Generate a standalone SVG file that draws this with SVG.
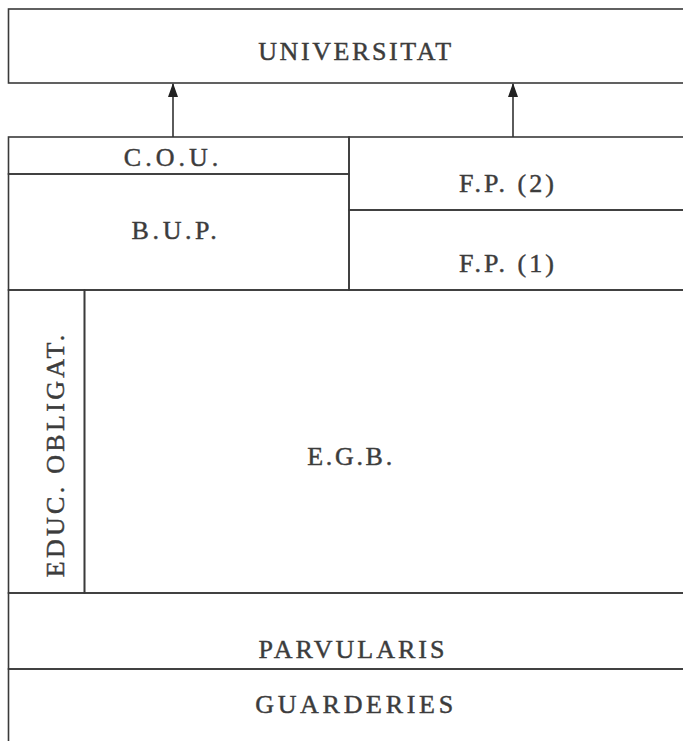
<svg xmlns="http://www.w3.org/2000/svg" width="683" height="741" viewBox="0 0 683 741">
<defs>
<style>
.box{fill:none;stroke:#3a3a3a;stroke-width:1.6}
.lbl{font-family:"Liberation Serif","Times New Roman",serif;font-size:26px;fill:#3c3c3c;stroke:#3c3c3c;stroke-width:0.45;text-anchor:middle}
.conn{stroke:#333;stroke-width:1.6;fill:none}
</style>
<marker id="ah" viewBox="0 0 14 10" refX="13" refY="5" markerWidth="14" markerHeight="10" markerUnits="userSpaceOnUse" orient="auto">
<path d="M0,0 L14,5 L0,10 Z" fill="#222"/>
</marker>
</defs>
<rect width="683" height="741" fill="#fff"/>
<g id="universitat">
<rect class="box" x="8.5" y="9" width="690" height="74"/>
<text class="lbl" x="356" y="60" style="letter-spacing:2.6px">UNIVERSITAT</text>
</g>
<g id="cou">
<rect class="box" x="8.5" y="137" width="340.5" height="37"/>
<text class="lbl" x="173" y="166" style="letter-spacing:4px">C.O.U.</text>
</g>
<g id="bup">
<rect class="box" x="8.5" y="174" width="340.5" height="116"/>
<text class="lbl" x="176" y="239" style="letter-spacing:3.6px">B.U.P.</text>
</g>
<g id="fp2">
<rect class="box" x="349" y="137" width="350" height="73"/>
<text class="lbl" x="508" y="192" style="letter-spacing:3px">F.P. (2)</text>
</g>
<g id="fp1">
<rect class="box" x="349" y="210" width="350" height="80"/>
<text class="lbl" x="508" y="272" style="letter-spacing:3px">F.P. (1)</text>
</g>
<g id="educ-obligat">
<rect class="box" x="8.5" y="290" width="76" height="303"/>
<text class="lbl" transform="translate(64,456) rotate(-90)" x="1.6" y="0" style="letter-spacing:3.3px">EDUC. OBLIGAT.</text>
</g>
<g id="egb">
<rect class="box" x="84.5" y="290" width="620" height="303"/>
<text class="lbl" x="351" y="465" style="letter-spacing:2.7px">E.G.B.</text>
</g>
<g id="parvularis">
<rect class="box" x="8.5" y="593" width="690" height="76"/>
<text class="lbl" x="353" y="658" style="letter-spacing:3px">PARVULARIS</text>
</g>
<g id="guarderies">
<rect class="box" x="8.5" y="669" width="690" height="90"/>
<text class="lbl" x="356" y="713" style="letter-spacing:3.7px">GUARDERIES</text>
</g>
<g id="connectors">
<line class="conn" x1="173" y1="137" x2="173" y2="84" marker-end="url(#ah)"/>
<line class="conn" x1="513" y1="137" x2="513" y2="84" marker-end="url(#ah)"/>
</g>
</svg>
